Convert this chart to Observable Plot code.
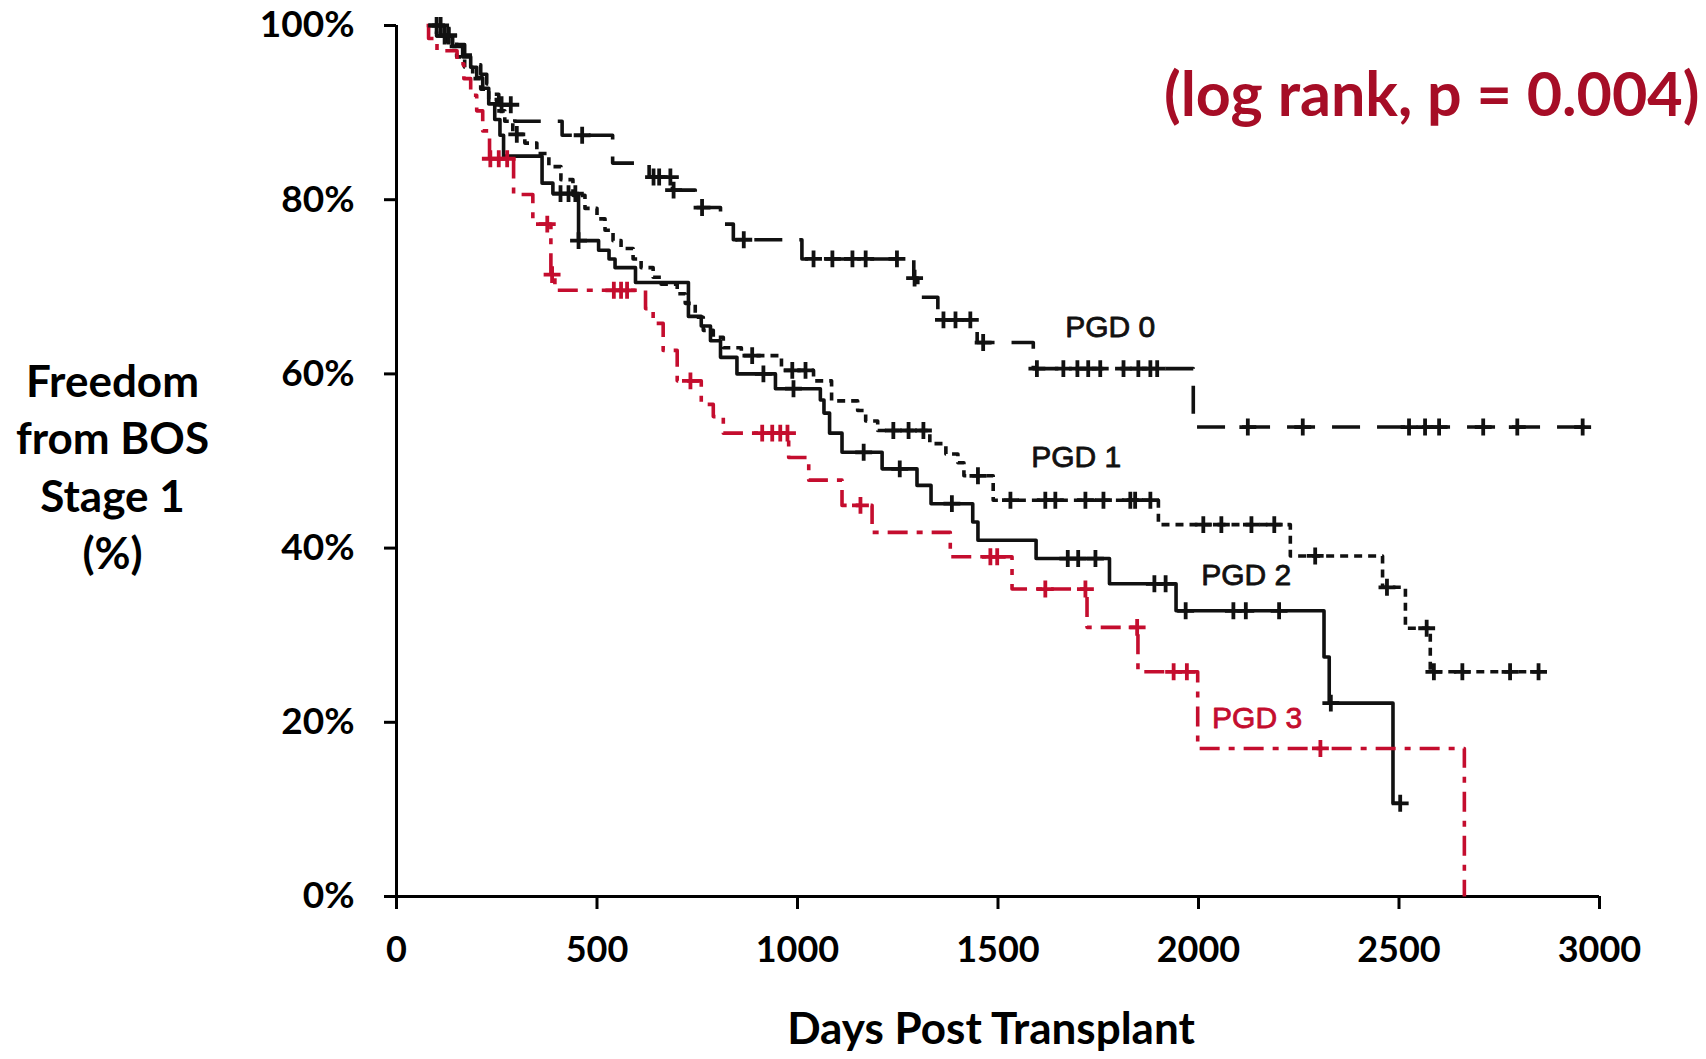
<!DOCTYPE html>
<html><head><meta charset="utf-8">
<script src="https://cdn.jsdelivr.net/npm/d3@7"></script>
<script src="https://cdn.jsdelivr.net/npm/@observablehq/plot@0.6"></script>
<style>body{margin:0;background:#fff}#chart{width:1706px;height:1059px}</style>
</head><body><div id="chart"></div>
<script>
// ---- data ----
const groups = ["PGD 0", "PGD 1", "PGD 2", "PGD 3"];

const pgd0Days = [80, 120, 150, 170, 190, 210, 225, 240, 255, 295, 413, 539, 630, 688, 745, 808, 840, 1011, 1290, 1300, 1350, 1448, 1588, 1987, 2980];
const pgd0Surv = [100, 98.9, 97.8, 96.6, 95.5, 94.4, 93.3, 92.1, 90.9, 89.0, 87.4, 84.2, 82.6, 81.1, 79.1, 77.2, 75.4, 73.2, 71.0, 68.8, 66.2, 63.6, 60.6, 53.9, 53.9];
const pgd0Censored = [110, 130, 262, 285, 463, 641, 655, 683, 691, 762, 866, 1040, 1087, 1137, 1170, 1248, 1292, 1364, 1394, 1431, 1463, 1597, 1663, 1698, 1725, 1755, 1813, 1850, 1880, 1897, 2123, 2260, 2525, 2565, 2600, 2710, 2795, 2958];

const pgd1Days = [80, 100, 125, 150, 170, 190, 210, 230, 250, 270, 290, 320, 350, 380, 410, 440, 470, 500, 520, 540, 560, 590, 610, 640, 660, 700, 720, 745, 765, 790, 815, 860, 960, 1040, 1085, 1150, 1170, 1200, 1330, 1370, 1400, 1415, 1488, 1900, 2229, 2459, 2516, 2578, 2857];
const pgd1Surv = [100, 98.8, 97.6, 96.4, 95.2, 93.9, 92.7, 91.5, 90.2, 89.0, 87.5, 86.5, 85.3, 83.8, 82.3, 80.5, 79.0, 77.8, 76.5, 75.3, 74.4, 73.2, 72.2, 71.1, 70.3, 69.2, 68.1, 66.5, 65.0, 64.2, 63.0, 62.1, 60.4, 59.2, 56.9, 55.8, 54.6, 53.5, 52.0, 50.8, 49.8, 48.3, 45.5, 42.7, 39.1, 35.5, 30.8, 25.8, 25.8];
const pgd1Censored = [120, 300, 887, 987, 1020, 1239, 1277, 1314, 1450, 1531, 1618, 1643, 1718, 1763, 1830, 1842, 1880, 2012, 2057, 2132, 2189, 2291, 2470, 2569, 2587, 2658, 2777, 2848];

const pgd2Days = [80, 110, 140, 165, 185, 200, 215, 230, 245, 258, 267, 363, 390, 454, 504, 530, 545, 596, 728, 760, 783, 808, 849, 945, 1057, 1066, 1080, 1111, 1211, 1298, 1333, 1437, 1450, 1595, 1778, 1944, 2313, 2326, 2485, 2503];
const pgd2Surv = [100, 98.8, 97.6, 96.4, 95.2, 94.0, 92.8, 91.0, 89.2, 87.4, 85.0, 81.9, 80.7, 75.3, 74.2, 73.2, 72.2, 70.5, 66.6, 65.5, 63.8, 61.9, 60.0, 58.3, 57.0, 55.5, 53.2, 51.0, 49.1, 47.2, 45.1, 43.0, 40.9, 38.8, 35.9, 32.8, 27.5, 22.2, 10.7, 10.7];
const pgd2Censored = [100, 130, 409, 429, 446, 454, 915, 990, 1165, 1255, 1385, 1674, 1700, 1743, 1890, 1918, 1968, 2087, 2118, 2201, 2330, 2503];

const pgd3Days = [75, 80, 101, 151, 168, 185, 200, 215, 232, 292, 340, 385, 395, 621, 640, 665, 700, 760, 790, 815, 978, 1028, 1111, 1186, 1381, 1535, 1722, 1849, 1998, 2663];
const pgd3Surv = [100, 98.5, 97.1, 95.6, 93.9, 92.0, 90.2, 87.9, 84.7, 80.6, 77.2, 71.4, 69.6, 67.5, 65.8, 62.7, 59.2, 56.5, 55.1, 53.2, 50.4, 47.8, 44.9, 41.8, 39.0, 35.3, 30.9, 25.8, 17.0, 0];
const pgd3Censored = [234, 255, 276, 376, 388, 542, 560, 575, 733, 912, 937, 957, 975, 1157, 1481, 1498, 1618, 1718, 1847, 1938, 1971, 2304];

const xTicks = [0, 500, 1000, 1500, 2000, 2500, 3000];
const yTicks = [0, 20, 40, 60, 80, 100];

// ---- build tables ----
const series = [
  {days: pgd0Days, surv: pgd0Surv, cens: pgd0Censored},
  {days: pgd1Days, surv: pgd1Surv, cens: pgd1Censored},
  {days: pgd2Days, surv: pgd2Surv, cens: pgd2Censored},
  {days: pgd3Days, surv: pgd3Surv, cens: pgd3Censored}
];
function survAt(s, d) {
  let v = s.surv[0];
  for (let i = 0; i < s.days.length; i++) if (s.days[i] <= d) v = s.surv[i];
  return v;
}
const curves = series.map((s, i) => s.days.map((d, j) => ({group: groups[i], day: d, surv: s.surv[j]})));
const censors = series.map((s, i) => s.cens.map(d => ({group: groups[i], day: d, surv: survAt(s, d)})));

const BLACK = "#111";
const RED = "#c40d2e";
const styles = [
  {stroke: BLACK, dash: "28 17"},
  {stroke: BLACK, dash: "8 6"},
  {stroke: BLACK, dash: null},
  {stroke: RED, dash: "20 9 6 9"}
];

const marks = [];
curves.forEach((c, i) => {
  marks.push(Plot.line(c, {x: "day", y: "surv", curve: "step-after", stroke: styles[i].stroke, strokeWidth: 3.6, strokeDasharray: styles[i].dash, strokeLinecap: "butt"}));
});
censors.forEach((c, i) => {
  marks.push(Plot.dot(c, {x: "day", y: "surv", symbol: "plus", r: 5.5, stroke: styles[i].stroke, strokeWidth: 3.8}));
});

const chart = Plot.plot({
  width: 1706,
  height: 1059,
  marginLeft: 396,
  marginRight: 107,
  marginTop: 25,
  marginBottom: 163,
  style: {fontFamily: "Lato, 'Open Sans', sans-serif", background: "#fff", color: "#000"},
  x: {domain: [0, 3000]},
  y: {domain: [0, 100]},
  marks: [
    Plot.axisX({ticks: xTicks, tickSize: 13, tickPadding: 27, fontSize: 36, fontWeight: "bold", strokeWidth: 3, label: null, tickFormat: d => String(d)}),
    Plot.axisY({ticks: yTicks, tickSize: 12, tickPadding: 30, fontSize: 37, fontWeight: "bold", strokeWidth: 3, label: null, tickFormat: d => d + "%"}),
    Plot.ruleX([0], {stroke: "#000", strokeWidth: 3}),
    Plot.ruleY([0], {stroke: "#000", strokeWidth: 3}),
    ...marks,
    Plot.text([
      {t: "PGD 0", day: 1780, surv: 65.3, c: BLACK},
      {t: "PGD 1", day: 1695, surv: 50.4, c: BLACK},
      {t: "PGD 2", day: 2119, surv: 36.9, c: BLACK},
      {t: "PGD 3", day: 2146, surv: 20.4, c: RED}
    ], {x: "day", y: "surv", text: "t", fill: "c", fontSize: 30, fontFamily: "'Liberation Sans', Arial, sans-serif", stroke: "c", strokeWidth: 0.8}),
    Plot.text(["Freedom\nfrom BOS\nStage 1\n(%)"], {frameAnchor: "left", dx: -284, dy: 3.5, fontSize: 44, fontWeight: "bold", lineHeight: 1.31, textAnchor: "middle", lineAnchor: "middle"}),
    Plot.text(["Days Post Transplant"], {frameAnchor: "bottom", dx: -7, dy: 133, fontSize: 44, fontWeight: "bold", lineAnchor: "middle"}),
    Plot.text(["(log rank, p = 0.004)"], {frameAnchor: "top-right", dx: 100, dy: 71, textAnchor: "end", lineAnchor: "middle", fill: "#a60d26", fontSize: 61, fontWeight: "bold"})
  ]
});
document.getElementById("chart").appendChild(chart);
</script>
</body></html>
